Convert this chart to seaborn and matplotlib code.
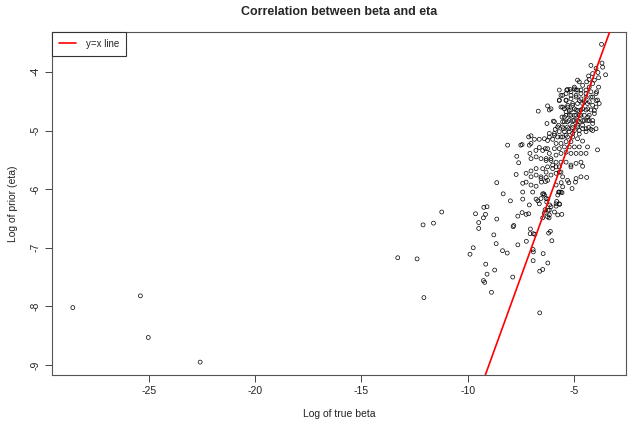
import matplotlib
matplotlib.use("Agg")
import matplotlib.pyplot as plt
import seaborn as sns
import pandas as pd
from matplotlib.lines import Line2D

# (log true beta, log prior eta) pairs
far_left = [(-28.58, -8.02), (-25.40, -7.82), (-25.03, -8.53), (-22.59, -8.95)]

mid_scatter = [(-13.29, -7.17), (-12.38, -7.19), (-12.10, -6.61), (-11.61, -6.58),
               (-11.22, -6.39), (-12.06, -7.85)]

lower = [(-9.63, -6.42), (-9.24, -6.31), (-9.09, -6.30), (-9.16, -6.43), (-9.26, -6.49),
         (-9.48, -6.57), (-9.48, -6.67), (-8.63, -6.51), (-8.77, -6.78), (-8.66, -6.93),
         (-9.74, -7.00), (-9.89, -7.11), (-9.15, -7.28), (-8.73, -7.38), (-9.09, -7.45),
         (-9.26, -7.56), (-9.20, -7.59), (-8.88, -7.76), (-7.88, -7.50), (-8.36, -7.05),
         (-8.14, -7.09), (-7.64, -6.95), (-7.86, -6.64), (-7.83, -6.62), (-8.63, -5.89),
         (-8.33, -6.08), (-7.99, -6.20), (-7.41, -6.17), (-7.64, -6.46), (-7.44, -6.40),
         (-7.25, -6.43), (-7.13, -6.42), (-7.24, -6.89), (-7.05, -6.68), (-6.91, -6.76),
         (-7.06, -6.76), (-6.84, -6.77), (-6.92, -7.03), (-6.91, -7.07), (-6.92, -7.22),
         (-6.45, -7.10), (-6.61, -7.40), (-6.47, -7.37), (-6.23, -7.26), (-6.61, -8.11),
         (-6.04, -6.88), (-6.11, -6.72), (-6.19, -6.75), (-6.47, -6.49), (-6.17, -6.49),
         (-5.76, -6.44), (-5.57, -6.43), (-6.40, -6.41), (-6.36, -6.35), (-6.22, -6.36),
         (-6.14, -6.27), (-5.84, -6.29), (-5.67, -6.26), (-5.81, -6.21), (-6.23, -6.17),
         (-6.70, -6.20), (-6.78, -6.17), (-7.10, -6.27), (-6.42, -6.08), (-7.41, -6.05),
         (-6.94, -6.05), (-5.56, -6.06), (-5.72, -6.05), (-5.53, -5.96), (-5.84, -5.93),
         (-7.41, -5.90), (-7.25, -5.88), (-7.02, -5.93), (-6.78, -5.95), (-6.53, -5.88),
         (-6.34, -5.87), (-5.60, -5.89), (-5.24, -5.89), (-5.09, -5.99), (-4.93, -5.88),
         (-5.69, -6.05), (-5.61, -6.05), (-5.76, -6.10), (-5.84, -6.25), (-5.69, -6.25),
         (-6.08, -6.30), (-6.16, -6.36), (-5.92, -6.39), (-6.28, -6.22), (-6.31, -6.16),
         (-6.47, -6.08), (-6.39, -6.10), (-6.55, -6.16), (-6.63, -6.25), (-6.24, -6.47),
         (-6.16, -6.44)]

core_a = [(-3.70, -3.53), (-4.20, -3.89), (-3.68, -3.85), (-3.96, -3.94), (-3.87, -4.01),
          (-3.65, -3.92), (-4.12, -4.03), (-3.51, -4.05), (-3.84, -4.10), (-4.31, -4.07),
          (-4.04, -4.14), (-4.40, -4.17), (-4.59, -4.23), (-4.83, -4.14), (-4.98, -4.26),
          (-5.30, -4.30), (-5.69, -4.31), (-5.61, -4.40), (-5.37, -4.37), (-5.14, -4.34),
          (-4.90, -4.31), (-4.67, -4.31), (-4.43, -4.31), (-4.20, -4.34), (-3.96, -4.37),
          (-4.28, -4.26), (-4.12, -4.43), (-3.89, -4.48), (-4.43, -4.43), (-4.67, -4.46),
          (-4.90, -4.43), (-5.14, -4.46), (-5.37, -4.48), (-5.69, -4.48), (-5.53, -4.60),
          (-5.30, -4.60), (-5.06, -4.57), (-4.83, -4.54), (-4.59, -4.54), (-4.36, -4.54),
          (-4.12, -4.57), (-3.96, -4.60), (-3.81, -4.54), (-4.20, -4.65), (-4.43, -4.65),
          (-4.67, -4.65), (-4.90, -4.65), (-5.14, -4.65), (-5.37, -4.68), (-6.68, -4.67),
          (-6.24, -4.58), (-6.16, -4.65), (-5.45, -4.77), (-5.22, -4.74), (-4.98, -4.74),
          (-4.75, -4.74), (-4.51, -4.74), (-4.28, -4.74), (-4.04, -4.71), (-4.12, -4.83),
          (-4.36, -4.83), (-4.59, -4.83), (-4.83, -4.83), (-5.06, -4.83), (-5.30, -4.85),
          (-5.53, -4.85), (-6.27, -4.88), (-5.92, -4.85), (-5.77, -4.94), (-5.53, -4.94),
          (-5.30, -4.94), (-5.06, -4.91), (-4.83, -4.91), (-4.59, -4.91), (-4.43, -4.97),
          (-4.20, -4.98), (-3.96, -4.97), (-4.75, -5.00), (-4.98, -5.00), (-5.22, -5.02),
          (-5.45, -5.02), (-5.69, -5.02), (-5.92, -5.05), (-6.16, -5.05), (-7.02, -5.09),
          (-7.13, -5.11), (-6.86, -5.15), (-6.63, -5.15), (-6.39, -5.14), (-6.24, -5.17),
          (-6.00, -5.15), (-5.77, -5.11), (-5.53, -5.11), (-5.30, -5.11), (-5.06, -5.11),
          (-4.83, -5.14), (-4.59, -5.18), (-5.14, -5.19), (-5.37, -5.19), (-5.61, -5.22),
          (-5.84, -5.22), (-5.92, -5.31), (-5.69, -5.31), (-5.45, -5.28), (-5.22, -5.28),
          (-4.98, -5.28), (-4.75, -5.28), (-4.36, -5.28), (-3.89, -5.33), (-4.43, -5.39),
          (-4.67, -5.39), (-4.90, -5.39), (-5.14, -5.39), (-5.37, -5.37), (-5.61, -5.39),
          (-5.84, -5.42), (-6.16, -5.39), (-6.35, -5.31), (-6.63, -5.29), (-7.02, -5.22),
          (-7.07, -5.39), (-7.44, -5.24), (-8.12, -5.25), (-7.69, -5.44), (-7.60, -5.55),
          (-7.02, -5.48), (-6.78, -5.45), (-6.55, -5.48), (-6.31, -5.48), (-6.08, -5.51),
          (-5.84, -5.54), (-5.61, -5.54), (-5.37, -5.54), (-5.14, -5.59), (-4.90, -5.56),
          (-4.67, -5.54), (-4.59, -5.61), (-5.69, -5.62), (-6.00, -5.65), (-6.24, -5.62),
          (-6.47, -5.65), (-6.78, -5.65), (-7.02, -5.69), (-7.72, -5.75), (-7.25, -5.73),
          (-7.02, -5.79), (-6.78, -5.76), (-6.55, -5.79), (-6.31, -5.80), (-6.08, -5.76),
          (-5.84, -5.73), (-5.61, -5.71), (-5.53, -5.79), (-5.30, -5.85), (-4.90, -5.82),
          (-4.67, -5.79), (-4.40, -5.80)]

core_b = [(-4.12, -4.20), (-4.28, -4.13), (-3.84, -4.26), (-3.93, -4.34), (-4.75, -4.17),
          (-4.82, -4.31), (-4.98, -4.29), (-5.18, -4.30), (-5.34, -4.31), (-5.53, -4.40),
          (-5.69, -4.49), (-5.37, -4.49), (-5.14, -4.40), (-4.90, -4.40), (-4.67, -4.37),
          (-4.43, -4.37), (-4.20, -4.43), (-3.96, -4.49), (-4.28, -4.51), (-4.51, -4.51),
          (-4.75, -4.49), (-5.06, -4.54), (-5.29, -4.57), (-5.45, -4.63), (-5.61, -4.60),
          (-5.22, -4.66), (-4.98, -4.63), (-4.82, -4.66), (-4.59, -4.63), (-4.35, -4.63),
          (-4.04, -4.66), (-4.35, -4.77), (-4.67, -4.74), (-4.90, -4.74), (-5.14, -4.74),
          (-5.37, -4.74), (-5.56, -4.77), (-6.08, -4.63), (-5.97, -4.84), (-5.72, -4.91),
          (-5.45, -4.85), (-5.22, -4.83), (-4.98, -4.83), (-4.75, -4.85), (-4.51, -4.83),
          (-4.28, -4.83), (-4.12, -4.88), (-4.31, -4.95), (-4.59, -4.97), (-4.82, -4.94),
          (-5.06, -4.95), (-5.25, -4.97), (-5.50, -4.97), (-5.88, -4.98), (-5.92, -5.08),
          (-6.16, -5.11), (-5.61, -5.11), (-5.37, -5.08), (-5.06, -5.05), (-4.75, -5.06),
          (-4.43, -5.02), (-4.12, -5.00), (-5.14, -5.62), (-6.31, -5.71), (-6.55, -5.82),
          (-6.24, -5.85), (-6.00, -5.59), (-5.84, -5.62), (-5.69, -5.71), (-6.31, -5.51),
          (-6.08, -5.48), (-6.47, -5.34), (-6.24, -5.31), (-7.50, -5.25), (-7.10, -5.25),
          (-6.79, -5.34)]

all_points = far_left + mid_scatter + lower + core_a + core_b
df = pd.DataFrame(all_points, columns=["log_beta", "log_eta"])

sns.set_style("white")
plt.rcParams["font.family"] = ["Liberation Sans", "DejaVu Sans"]

fig = plt.figure(figsize=(6.3, 4.25), dpi=100)
ax = fig.add_axes([52 / 630, 1 - 375 / 425, (626 - 52) / 630, (375 - 32) / 425])

sns.scatterplot(data=df, x="log_beta", y="log_eta", ax=ax, marker="o", s=8,
                facecolor="none", edgecolor="black", linewidth=0.5, legend=False, zorder=2)
ax.axline((0, 0), slope=1, color="red", linewidth=1.2, zorder=3)

ax.set_xlim(-29.56, -2.55)
ax.set_ylim(-9.17, -3.32)
ax.set_xticks([-25, -20, -15, -10, -5])
ax.set_yticks([-9, -8, -7, -6, -5, -4])
ax.set_xticklabels(["-25", "-20", "-15", "-10", "-5"])
ax.set_yticklabels(["-9", "-8", "-7", "-6", "-5", "-4"], rotation=90, va="center")
ax.tick_params(axis="both", direction="out", length=5, width=0.7, color="#444444",
               labelsize=7.5, pad=3, bottom=True, left=True, labelcolor="#222222")
for sp in ax.spines.values():
    sp.set_color("#555555")
    sp.set_linewidth(0.8)

ax.set_xlabel("Log of true beta", fontsize=7.5, labelpad=9, color="#222222")
ax.set_ylabel("Log of prior (eta)", fontsize=7.5, labelpad=9, color="#222222")
ax.set_title("Correlation between beta and eta", fontsize=9, fontweight="bold", pad=12)

handle = Line2D([0], [0], color="red", linewidth=1.2)
leg = ax.legend([handle], ["y=x line"], loc="upper left", borderaxespad=0,
                fancybox=False, edgecolor="#333333", framealpha=1, fontsize=7,
                handlelength=1.8, borderpad=0.7, handletextpad=1.0)
leg.get_frame().set_linewidth(0.8)

fig.savefig("out.png", dpi=100)
